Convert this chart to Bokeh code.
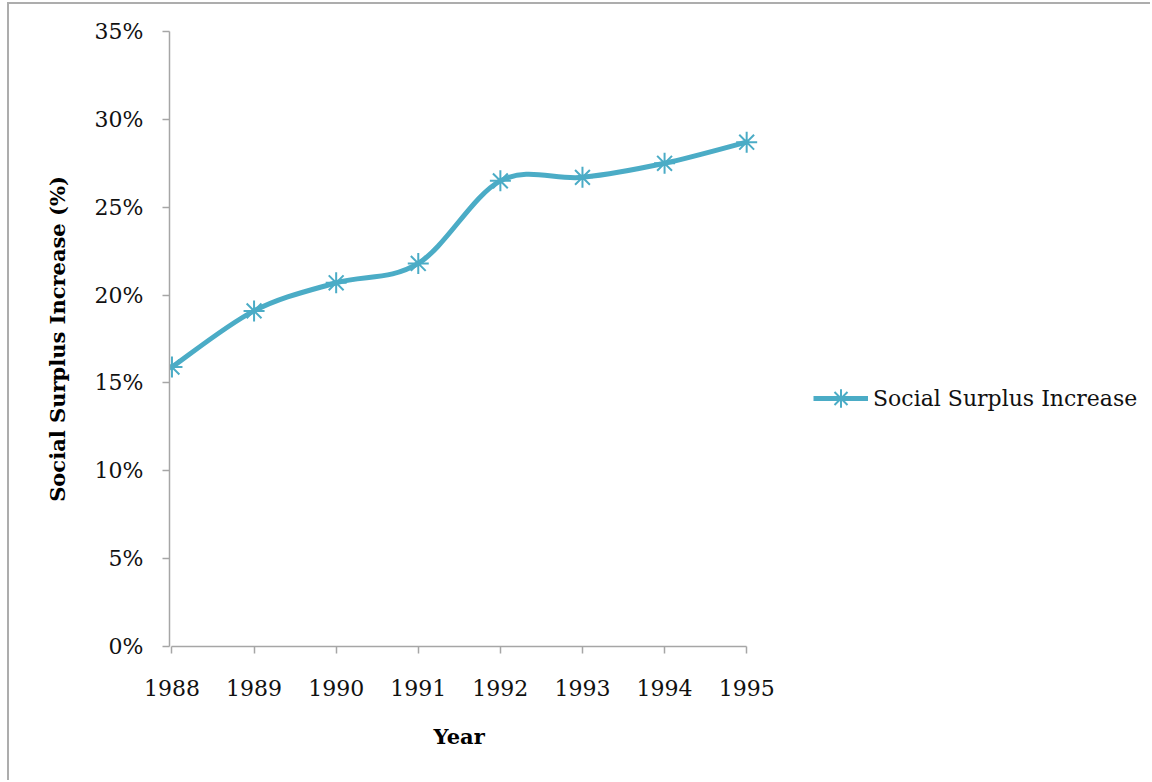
from bokeh.plotting import figure
from bokeh.models import (Range1d, FixedTicker, PrintfTickFormatter, Legend, LegendItem,
                          ColumnDataSource, Title)
from bokeh.embed import file_html
from bokeh.resources import INLINE

years = [1988, 1989, 1990, 1991, 1992, 1993, 1994, 1995]
surplus = [15.9, 19.1, 20.7, 21.8, 26.5, 26.7, 27.5, 28.7]
y_ticks = [0, 5, 10, 15, 20, 25, 30, 35]
series_name = "Social Surplus Increase"
x_title = "Year"
y_title = "Social Surplus Increase (%)"

COLOR = "#4bacc6"
AXIS = "#a6a6a6"
FONT = "DejaVu Serif"

# smoothed-line segments (Catmull-Rom style Bezier control points)
n = len(years)
seg = dict(x0=[], y0=[], x1=[], y1=[], cx0=[], cy0=[], cx1=[], cy1=[])
for i in range(n - 1):
    a = max(i - 1, 0)
    d = min(i + 2, n - 1)
    seg["x0"].append(years[i]); seg["y0"].append(surplus[i])
    seg["x1"].append(years[i + 1]); seg["y1"].append(surplus[i + 1])
    seg["cx0"].append(years[i] + (years[i + 1] - years[a]) / 6)
    seg["cy0"].append(surplus[i] + (surplus[i + 1] - surplus[a]) / 6)
    seg["cx1"].append(years[i + 1] - (years[d] - years[i]) / 6)
    seg["cy1"].append(surplus[i + 1] - (surplus[d] - surplus[i]) / 6)

# frame spans to the right edge so the legend can sit inside it
p = figure(width=1143, height=778, output_backend="svg", toolbar_location=None,
           x_range=Range1d(1987.97, 1999.943), y_range=Range1d(0, 35),
           min_border_left=160, min_border_right=0, min_border_top=27,
           min_border_bottom=136,
           styles={"margin-left": "7px", "margin-top": "2px",
                   "border-left": "2px solid #adadad", "border-top": "2px solid #adadad"})
p.grid.visible = False
p.outline_line_color = None

curve = p.bezier(source=ColumnDataSource(seg), x0="x0", y0="y0", x1="x1", y1="y1",
                 cx0="cx0", cy0="cy0", cx1="cx1", cy1="cy1",
                 line_color=COLOR, line_width=5)
marks = p.scatter(years, surplus, marker="asterisk", size=21, line_color=COLOR,
                  line_width=2)

for ax in (p.xaxis[0], p.yaxis[0]):
    ax.axis_line_color = AXIS
    ax.axis_line_width = 1.5
    ax.major_tick_line_color = AXIS
    ax.major_tick_line_width = 1.5
    ax.major_tick_in = 0
    ax.major_tick_out = 7
    ax.minor_tick_line_color = None
    ax.major_label_text_font = FONT
    ax.major_label_text_font_size = "22px"
    ax.major_label_text_color = "#111111"
    ax.axis_label_text_font = FONT
    ax.axis_label_text_font_style = "bold"
    ax.axis_label_text_font_size = "21px"
    ax.axis_label_text_color = "#000000"

p.xaxis.ticker = FixedTicker(ticks=years)
p.xaxis.bounds = (years[0], years[-1])
p.xaxis.major_label_standoff = 26

p.yaxis.ticker = FixedTicker(ticks=y_ticks)
p.yaxis.formatter = PrintfTickFormatter(format="%d%%")
p.yaxis.major_label_standoff = 19
p.yaxis.axis_label = y_title
p.yaxis.axis_label_standoff = 22

xtitle = Title(text=x_title, align="left", offset=264, standoff=46,
               text_font=FONT, text_font_style="bold", text_font_size="21px",
               text_color="#000000")
p.add_layout(xtitle, "below")

legend = Legend(items=[LegendItem(label=series_name, renderers=[curve, marks])],
                location=(644, 225), orientation="vertical",
                glyph_width=55, glyph_height=46, label_height=20, label_standoff=5,
                padding=0, margin=0, border_line_color=None, background_fill_alpha=0,
                label_text_font=FONT, label_text_font_size="22px",
                label_text_color="#111111")
p.add_layout(legend, "center")

open("out.html", "w").write(file_html(p, INLINE))
